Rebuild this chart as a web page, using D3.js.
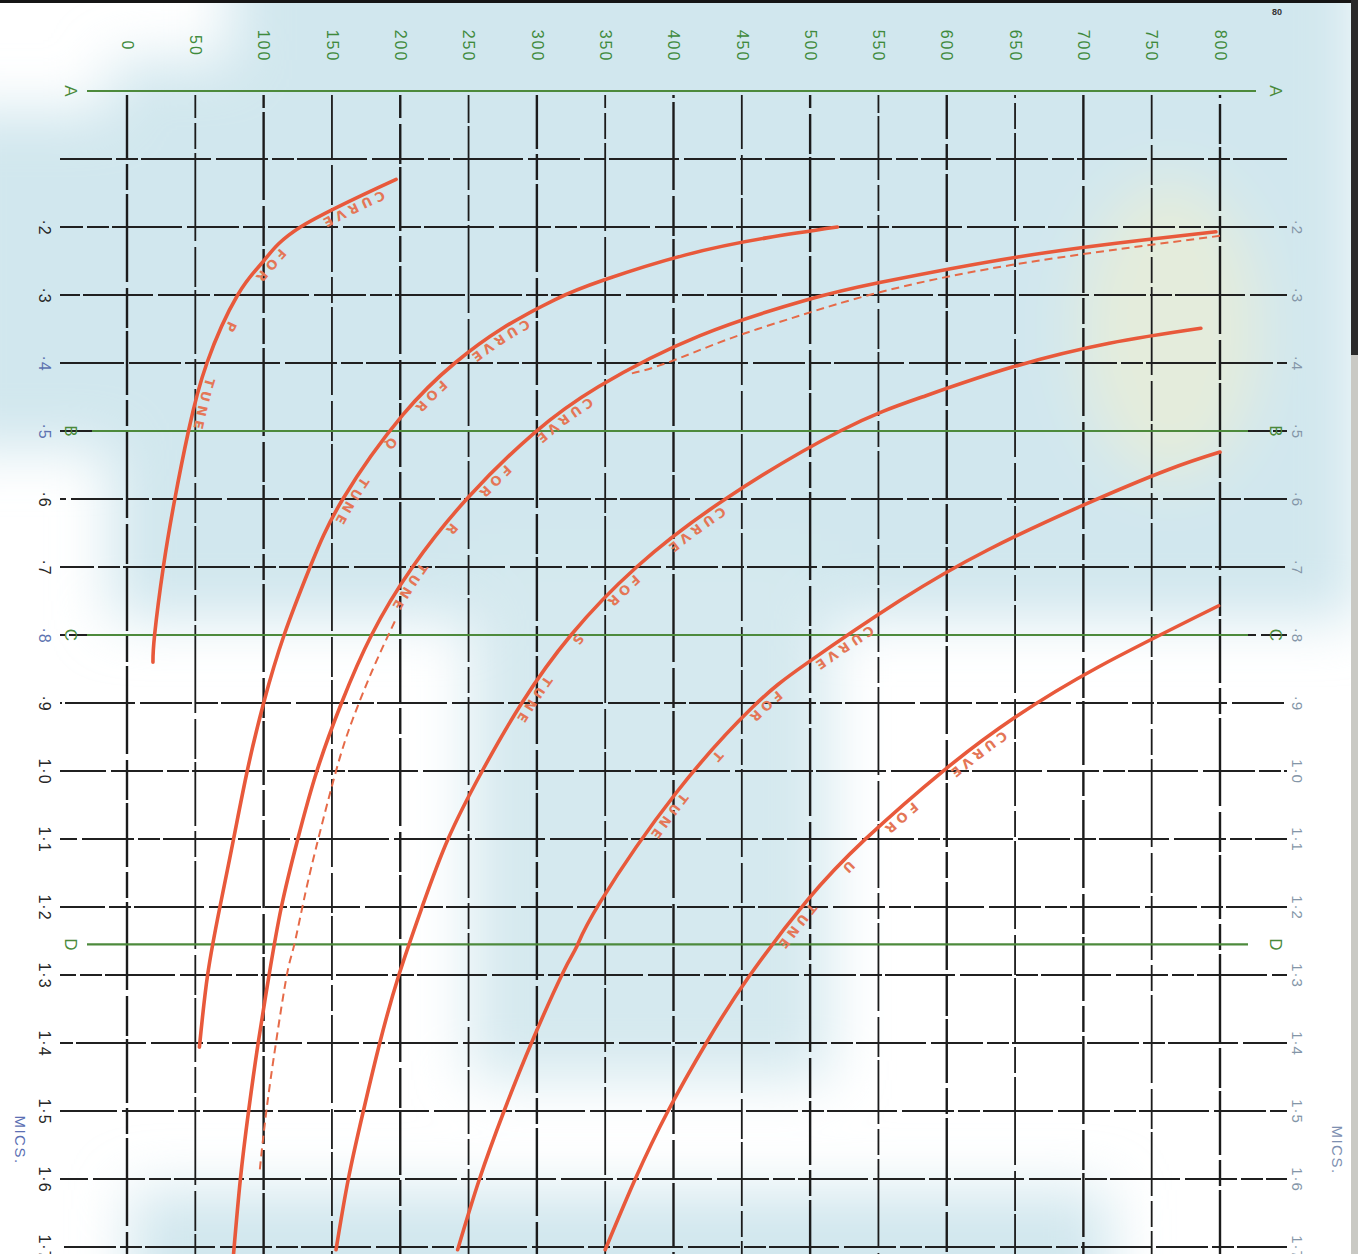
<!DOCTYPE html>
<html>
<head>
<meta charset="utf-8">
<script src="https://cdn.jsdelivr.net/npm/d3@7"></script>
<style>
  body { margin: 0; background: #fff; }
  svg { display: block; }
</style>
</head>
<body>
<div id="chart"></div>
<script>
// wavelength (metres) along the top, capacity (mics) down the side
const xTicks = [0, 50, 100, 150, 200, 250, 300, 350, 400, 450, 500, 550, 600, 650, 700, 750, 800];
const xTickLabels = ["0", "50", "100", "150", "200", "250", "300", "350", "400", "450", "500", "550", "600", "650", "700", "750", "800"];
const yTicks = [0.1, 0.2, 0.3, 0.4, 0.5, 0.6, 0.7, 0.8, 0.9, 1.0, 1.1, 1.2, 1.3, 1.4, 1.5, 1.6, 1.7];
const yTickLabels = ["", "·2", "·3", "·4", "·5", "·6", "·7", "·8", "·9", "1·0", "1·1", "1·2", "1·3", "1·4", "1·5", "1·6", "1·7"];
const refNames = ["A", "B", "C", "D"];
const refValues = [0, 0.5, 0.8, 1.255];

// [metres, mics]
const curveP = [[197, 0.13], [127, 0.20], [100, 0.25], [81, 0.30], [58.5, 0.40], [45, 0.50], [35, 0.60], [26.6, 0.70], [20.2, 0.80], [19, 0.84]];
const curveQ = [[520, 0.20], [468, 0.216], [409, 0.241], [349, 0.278], [313, 0.307], [274, 0.35], [240, 0.40], [202, 0.476], [158, 0.60], [134, 0.70], [115, 0.80], [100, 0.90], [88, 1.00], [78, 1.10], [68, 1.20], [59, 1.30], [53, 1.406]];
const curveR = [[797, 0.207], [744, 0.219], [652, 0.244], [550, 0.282], [498, 0.307], [419, 0.36], [345, 0.435], [298, 0.503], [250, 0.597], [209, 0.70], [179, 0.80], [157, 0.90], [139, 1.0], [125, 1.10], [113, 1.20], [104, 1.30], [96, 1.40], [89, 1.50], [83, 1.60], [78, 1.71]];
const curveRDashTop = [[800, 0.213], [647, 0.256], [549, 0.297], [493, 0.33], [440, 0.365], [395, 0.40], [368, 0.416]];
const curveRDashLow = [[196, 0.78], [180, 0.85], [165, 0.925], [153, 1.0], [138, 1.116], [129, 1.194], [122, 1.259], [117, 1.30], [109, 1.40], [102, 1.50], [97, 1.59]];
const curveS = [[786, 0.349], [719, 0.371], [648, 0.406], [582, 0.45], [522, 0.50], [438, 0.60], [373, 0.70], [325, 0.80], [289, 0.90], [260, 1.0], [235, 1.10], [216, 1.20], [199, 1.30], [185, 1.40], [173, 1.50], [162, 1.60], [153, 1.704]];
const curveT = [[800, 0.531], [762, 0.557], [700, 0.609], [630, 0.675], [566, 0.749], [498, 0.841], [458, 0.906], [402, 1.032], [346, 1.194], [329, 1.259], [319, 1.297], [296, 1.40], [276, 1.50], [258, 1.60], [242, 1.704]];
const curveU = [[799, 0.757], [711, 0.847], [650, 0.921], [598, 0.999], [540, 1.101], [498, 1.19], [455, 1.303], [424, 1.40], [396, 1.50], [372, 1.60], [350, 1.704]];

const curveNames = ["P", "Q", "R", "S", "T", "U"];
const curveData = [curveP, curveQ, curveR, curveS, curveT, curveU];
// where along each curve its "CURVE FOR .. TUNE" text runs (in mics)
const labelFrom = [0.14, 0.33, 0.445, 0.605, 0.78, 0.935];
const labelTo = [0.50, 0.635, 0.76, 0.925, 1.095, 1.255];

let width = 1358,
  height = 1254;

const svg = d3.select("#chart")
  .append("svg")
  .attr("width", width)
  .attr("height", height)
  .style("font-family", "'Liberation Sans', Arial, sans-serif");

let x = d3.scaleLinear()
  .domain([0, 800])
  .range([127, 1220]);

let y = d3.scaleLinear()
  .domain([0, 1.7])
  .range([91, 1247]);

// paper tint of the scan
const defs = svg.append("defs");
defs.append("filter")
  .attr("id", "soft")
  .attr("x", "-30%").attr("y", "-30%")
  .attr("width", "160%").attr("height", "160%")
  .append("feGaussianBlur")
  .attr("stdDeviation", 28);

const bg = svg.append("g").attr("filter", "url(#soft)");
bg.append("rect").attr("x", 230).attr("y", -60).attr("width", 1130).attr("height", 680).attr("fill", "#d1e7ee");
bg.append("rect").attr("x", 110).attr("y", 60).attr("width", 140).attr("height", 560).attr("fill", "#d1e7ee");
bg.append("rect").attr("x", -60).attr("y", 110).attr("width", 190).attr("height", 340).attr("fill", "#d1e7ee");
bg.append("rect").attr("x", 470).attr("y", 560).attr("width", 360).attr("height", 520).attr("fill", "#d5e9ef");
bg.append("rect").attr("x", 130).attr("y", 1190).attr("width", 980).attr("height", 120).attr("fill", "#d1e7ee");
bg.append("ellipse").attr("cx", 1170).attr("cy", 330).attr("rx", 90).attr("ry", 150).attr("fill", "#e4ecdc");

// scan borders
svg.append("rect").attr("x", 0).attr("y", 0).attr("width", width).attr("height", 3).attr("fill", "#151515");
svg.append("rect").attr("x", 1351).attr("y", 0).attr("width", 7).attr("height", 355).attr("fill", "#2a2a2a");
svg.append("rect").attr("x", 1351).attr("y", 355).attr("width", 7).attr("height", 900).attr("fill", "#c9c9c4");

svg.append("text")
  .attr("x", 1277).attr("y", 15)
  .attr("text-anchor", "middle")
  .attr("font-size", 9)
  .attr("font-weight", "bold")
  .attr("fill", "#333")
  .text("80");

// vertical grid
svg.append("g")
  .selectAll("line")
  .data(xTicks)
  .join("line")
  .attr("x1", d => x(d)).attr("x2", d => x(d))
  .attr("y1", y(0) + 4).attr("y2", height)
  .attr("stroke", "#1b1b1b")
  .attr("stroke-width", (d, i) => i % 2 ? 1.8 : 2.4)
  .attr("stroke-dasharray", "64 5 26 4 88 6 40 3")
  .attr("stroke-dashoffset", (d, i) => i * 41);

// horizontal grid
svg.append("g")
  .selectAll("line")
  .data(yTicks)
  .join("line")
  .attr("x1", 60).attr("x2", 1287)
  .attr("y1", d => y(d)).attr("y2", d => y(d))
  .attr("stroke", "#202020")
  .attr("stroke-width", 1.8)
  .attr("stroke-dasharray", "52 4 22 3 70 5")
  .attr("stroke-dashoffset", (d, i) => i * 29);

// lettered reference lines
svg.append("g")
  .selectAll("line")
  .data(refValues)
  .join("line")
  .attr("x1", (d, i) => i == 1 ? 92 : 87).attr("x2", (d, i) => i == 0 ? 1256 : 1248)
  .attr("y1", d => y(d)).attr("y2", d => y(d))
  .attr("stroke", "#4d8a3c")
  .attr("stroke-width", 2.2);

for (let side of [71, 1276]) {
  svg.append("g")
    .selectAll("text")
    .data(refValues)
    .join("text")
    .attr("transform", d => `translate(${side},${y(d)}) rotate(90)`)
    .attr("text-anchor", "middle")
    .attr("dy", "0.36em")
    .attr("font-size", 17)
    .attr("fill", "#4a8a3a")
    .text((d, i) => refNames[i]);
}

// top axis: metres
svg.append("g")
  .attr("transform", "translate(0,46)")
  .call(d3.axisTop(x).tickValues(xTicks).tickSize(0).tickFormat((d, i) => xTickLabels[i]))
  .call(g => g.select(".domain").remove())
  .selectAll("text")
  .attr("x", 0).attr("y", 0).attr("dy", "0.36em")
  .attr("transform", "rotate(90)")
  .attr("text-anchor", "middle")
  .attr("font-size", 16)
  .attr("letter-spacing", 2)
  .attr("font-family", "'Liberation Sans', Arial, sans-serif")
  .attr("fill", "#3f8a3c");

// side axes: mics
svg.append("g")
  .attr("transform", "translate(45,0)")
  .call(d3.axisLeft(y).tickValues(yTicks).tickSize(0).tickFormat((d, i) => yTickLabels[i]))
  .call(g => g.select(".domain").remove())
  .selectAll("text")
  .attr("x", 0).attr("y", 0).attr("dy", "0.36em")
  .attr("transform", "rotate(90)")
  .attr("text-anchor", "middle")
  .attr("font-size", 16)
  .attr("letter-spacing", 1)
  .attr("font-family", "'Liberation Sans', Arial, sans-serif")
  .attr("fill", (d, i) => (i == 3 || i == 4 || i == 7) ? "#5d72b0" : "#262626");

svg.append("g")
  .attr("transform", "translate(1297,0)")
  .call(d3.axisRight(y).tickValues(yTicks).tickSize(0).tickFormat((d, i) => yTickLabels[i]))
  .call(g => g.select(".domain").remove())
  .selectAll("text")
  .attr("x", 0).attr("y", 0).attr("dy", "0.36em")
  .attr("transform", "rotate(90)")
  .attr("text-anchor", "middle")
  .attr("font-size", 15)
  .attr("letter-spacing", 1)
  .attr("font-family", "'Liberation Sans', Arial, sans-serif")
  .attr("fill", "#8496a8");

svg.append("text")
  .attr("transform", "translate(20,1140) rotate(90)")
  .attr("text-anchor", "middle")
  .attr("dy", "0.36em")
  .attr("font-size", 15)
  .attr("letter-spacing", 1.5)
  .attr("fill", "#5b6fb3")
  .text("MICS.");

svg.append("text")
  .attr("transform", "translate(1337,1150) rotate(90)")
  .attr("text-anchor", "middle")
  .attr("dy", "0.36em")
  .attr("font-size", 15)
  .attr("letter-spacing", 1.5)
  .attr("fill", "#7d8fb0")
  .text("MICS.");

// the tuning curves
let line = d3.line()
  .x(d => x(d[0]))
  .y(d => y(d[1]))
  .curve(d3.curveNatural);

for (let dash of [curveRDashTop, curveRDashLow]) {
  svg.append("path")
    .datum(dash)
    .attr("fill", "none")
    .attr("stroke", "#e66a48")
    .attr("stroke-width", 2)
    .attr("stroke-dasharray", "8 5")
    .attr("d", line);
}

const curves = svg.append("g");
curveData.forEach((data, i) => {
  curves.append("path")
    .datum(data)
    .attr("id", "curve-" + curveNames[i])
    .attr("fill", "none")
    .attr("stroke", "#e8593b")
    .attr("stroke-width", 3.6)
    .attr("stroke-linecap", "round")
    .attr("d", line);
});

function lengthAtY(node, yPix) {
  let total = node.getTotalLength();
  for (let l = 0; l <= total; l += 1) {
    if (node.getPointAtLength(l).y >= yPix) return l;
  }
  return total;
}

// "CURVE FOR x TUNE" written along each curve
const labels = svg.append("g")
  .attr("font-size", 13)
  .attr("font-weight", "bold")
  .attr("letter-spacing", 4.5)
  .attr("font-family", "'DejaVu Sans', sans-serif")
  .attr("fill", "#e47656");

curveNames.forEach((name, i) => {
  let node = d3.select("#curve-" + name).node();
  let l0 = lengthAtY(node, y(labelFrom[i])),
    l1 = lengthAtY(node, y(labelTo[i]));
  let words = ["CURVE", "FOR", name, "TUNE"];
  let widths = words.map(w => {
    let t = labels.append("text").text(w);
    let len = t.node().getComputedTextLength();
    t.remove();
    return len;
  });
  let gap = (l1 - l0 - d3.sum(widths)) / (words.length - 1);
  let pos = l0;
  words.forEach((w, j) => {
    labels.append("text")
      .attr("dy", -4)
      .append("textPath")
      .attr("href", "#curve-" + name)
      .attr("startOffset", pos)
      .text(w);
    pos += widths[j] + gap;
  });
});
</script>
</body>
</html>
